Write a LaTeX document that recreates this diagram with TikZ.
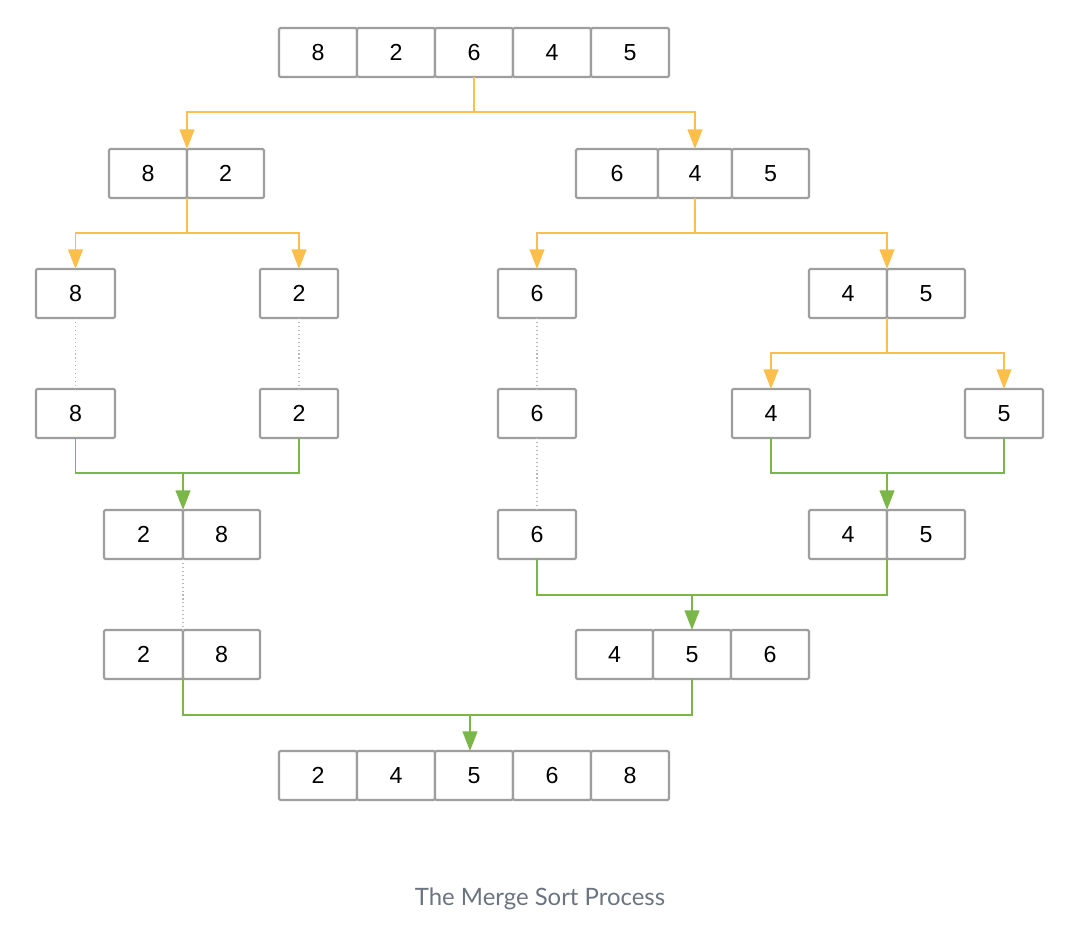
\documentclass[tikz,border=0pt]{standalone}
\usepackage{fontspec}
\setmainfont{Liberation Sans}
\newfontfamily\capfont{Lato}
\usetikzlibrary{arrows.meta}
\definecolor{boxgray}{HTML}{9E9E9E}
\definecolor{splitorange}{HTML}{FDBF4B}
\definecolor{mergegreen}{HTML}{7AB648}
\definecolor{dotgray}{HTML}{B8B8B8}
\definecolor{capgray}{HTML}{6B7580}
\newcommand\mycell[5]{\node[cellbox, minimum width={(#3-#2)*0.025cm}, anchor=north west] (#1) at (#2,#4) {#5};}
\tikzset{
  cellbox/.style={draw=boxgray, line width=1.5pt, rounded corners=1pt, fill=white,
    minimum height={49*0.025cm}, inner sep=0pt, outer sep=0pt,
    font=\fontsize{16.5}{19}\selectfont, text=black},
  splitline/.style={draw=splitorange, line width=1.3pt},
  splitarrow/.style={splitline, -{Triangle[length=14pt,width=10.5pt]}},
  mergeline/.style={draw=mergegreen, line width=1.3pt},
  mergearrow/.style={mergeline, -{Triangle[length=14pt,width=10.5pt]}},
  dotline/.style={draw=dotgray, line width=0.8pt, dotted},
}
\begin{document}
\begin{tikzpicture}[x=0.025cm, y=-0.025cm]
\useasboundingbox (0,0) rectangle (1086,928);
\fill[white] (0,0) rectangle (1086,928);
% row 1
\mycell{t1}{279}{357}{28}{8}
\mycell{t2}{357}{435}{28}{2}
\mycell{t3}{435}{513}{28}{6}
\mycell{t4}{513}{591}{28}{4}
\mycell{t5}{591}{669}{28}{5}
% row 2
\mycell{a1}{109}{187}{149}{8}
\mycell{a2}{187}{264}{149}{2}
\mycell{b1}{576}{658}{149}{6}
\mycell{b2}{658}{732}{149}{4}
\mycell{b3}{732}{809}{149}{5}
% row 3
\mycell{c1}{36}{115}{269}{8}
\mycell{c2}{260}{338}{269}{2}
\mycell{c3}{498}{576}{269}{6}
\mycell{c4}{809}{887}{269}{4}
\mycell{c5}{887}{965}{269}{5}
% row 4
\mycell{d1}{36}{115}{389}{8}
\mycell{d2}{260}{338}{389}{2}
\mycell{d3}{498}{576}{389}{6}
\mycell{d4}{732}{810}{389}{4}
\mycell{d5}{965}{1043}{389}{5}
% row 5
\mycell{e1}{104}{183}{510}{2}
\mycell{e2}{183}{260}{510}{8}
\mycell{e3}{498}{576}{510}{6}
\mycell{e4}{809}{887}{510}{4}
\mycell{e5}{887}{965}{510}{5}
% row 6
\mycell{f1}{104}{183}{630}{2}
\mycell{f2}{183}{260}{630}{8}
\mycell{f3}{576}{653}{630}{4}
\mycell{f4}{653}{731}{630}{5}
\mycell{f5}{731}{809}{630}{6}
% row 7
\mycell{g1}{279}{357}{751}{2}
\mycell{g2}{357}{435}{751}{4}
\mycell{g3}{435}{513}{751}{5}
\mycell{g4}{513}{591}{751}{6}
\mycell{g5}{591}{669}{751}{8}
% split connectors
\draw[splitline] (t3.south) -- ++(0,35) coordinate (s1);
\draw[splitarrow] (s1) -| (a1.north east);
\draw[splitarrow] (s1) -| (b2.north);
\draw[splitline] (a1.south east) -- ++(0,35) coordinate (s2);
\draw[splitarrow] (s2) -| (c1.north);
\draw[splitarrow] (s2) -| (c2.north);
\draw[splitline] (b2.south) -- ++(0,35) coordinate (s3);
\draw[splitarrow] (s3) -| (c3.north);
\draw[splitarrow] (s3) -| (c4.north east);
\draw[splitline] (c4.south east) -- ++(0,35) coordinate (s4);
\draw[splitarrow] (s4) -| (d4.north);
\draw[splitarrow] (s4) -| (d5.north);
% dotted carries
\draw[dotline] (c1.south) -- (d1.north);
\draw[dotline] (c2.south) -- (d2.north);
\draw[dotline] (c3.south) -- (d3.north);
\draw[dotline] (d3.south) -- (e3.north);
\draw[dotline] (e1.south east) -- (f1.north east);
% merge connectors
\draw[mergeline] (d1.south) -- ++(0,35) coordinate (m1) -| (d2.south);
\draw[mergearrow] (m1 -| e1.north east) -- (e1.north east);
\draw[mergeline] (d4.south) -- ++(0,35) coordinate (m2) -| (d5.south);
\draw[mergearrow] (m2 -| e4.north east) -- (e4.north east);
\draw[mergeline] (e3.south) -- ++(0,36) coordinate (m3) -| (e4.south east);
\draw[mergearrow] (m3 -| f4.north) -- (f4.north);
\draw[mergeline] (f1.south east) -- ++(0,36) coordinate (m4) -| (f4.south);
\coordinate (gx) at (470,0);
\draw[mergearrow] (m4 -| gx) -- (gx |- g3.north);
% caption
\node[font=\capfont\fontsize{17}{20}\selectfont, text=capgray, anchor=base] (cap) at (540,905) {The Merge Sort Process};
\end{tikzpicture}
\end{document}
